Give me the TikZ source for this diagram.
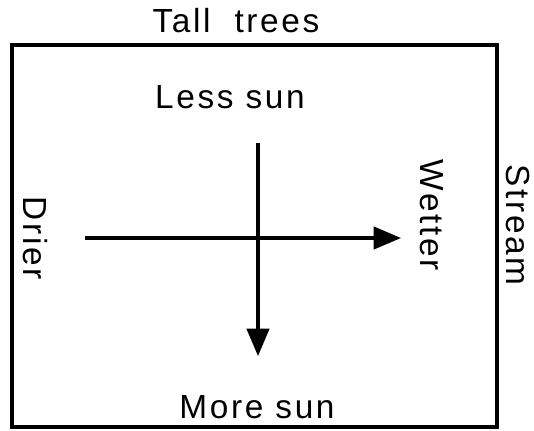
\documentclass[tikz,border=0pt]{standalone}
\usepackage{fontspec}
\setmainfont{Liberation Sans}[LetterSpace=8]
\usetikzlibrary{arrows.meta}
\begin{document}
\begin{tikzpicture}[x=0.02cm, y=-0.02cm, every node/.style={font=\fontsize{19}{22}\selectfont}]
    \useasboundingbox (0,0) rectangle (534,430);

    % Ramecek
    \draw[line width=1.8pt] (12,45) rectangle (497,427);

    % Popisky okolo
    \node (trees) at (236,21) {Tall\ \ trees};
    \node[rotate=-90] (stream) at (518,225) {Stream};

    % Popisky uvnitr
    \node (less) at (230,97) {Less sun};
    \node (more) at (257,407) {More sun};
    \node[rotate=-90] (drier) at (35,238) {Drier};
    \node[rotate=-90] (wetter) at (432,215) {Wetter};

    % Osy
    \coordinate (vtop) at (258,143);
    \coordinate (vbot) at (258,356);
    \coordinate (hleft) at (85,238);
    \coordinate (hright) at (401,238);
    \draw[line width=1.8pt, -{Triangle[length=0.55cm, width=0.45cm]}] (vtop) -- (vbot);
    \draw[line width=1.8pt, -{Triangle[length=0.55cm, width=0.45cm]}] (hleft) -- (hright);

\end{tikzpicture}
\end{document}
